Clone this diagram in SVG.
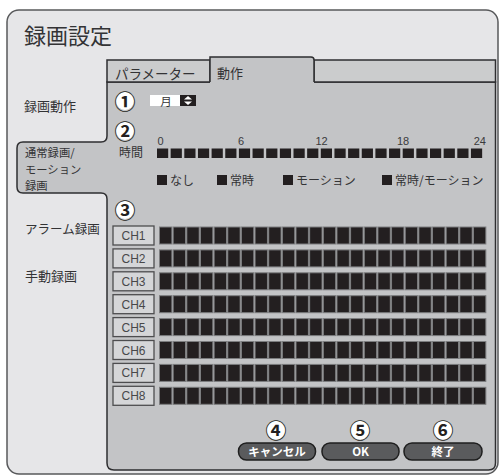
<svg xmlns="http://www.w3.org/2000/svg" xmlns:xlink="http://www.w3.org/1999/xlink" width="499" height="476" viewBox="0 0 499 476">
<style>
.jp{font-family:"Noto Sans CJK JP","Noto Sans",sans-serif;fill:#333335}
.lat{font-family:"Liberation Sans",Arial,sans-serif;fill:#3a3a3c}
.num{font-family:"Noto Sans CJK JP",sans-serif;font-weight:bold;font-size:21px;fill:#231f20;text-anchor:middle}
.disc{fill:#ffffff}
.tb{fill:#231f20}
.gb{fill:#231f20;stroke:#7c7d7f;stroke-width:1}
.ch{fill:#d5d6d8;stroke:#4d4d4f;stroke-width:1.3}
.cht{font-family:"Liberation Sans",Arial,sans-serif;font-size:12px;fill:#48484a;text-anchor:middle}
.btn{fill:#5a5b5d;stroke:#1f1f1f;stroke-width:1.5}
.btt{font-family:"Noto Sans CJK JP","Liberation Sans",sans-serif;font-weight:bold;font-size:11.5px;fill:#ffffff;text-anchor:middle}
.tabu{fill:#cbcccd;stroke:#2e2e30;stroke-width:1.5}
</style>
<defs>
<g id="timeBlocks">
<rect class="tb" x="157" y="0" width="11.2" height="9.5"/><rect class="tb" x="170.65" y="0" width="11.2" height="9.5"/><rect class="tb" x="184.3" y="0" width="11.2" height="9.5"/><rect class="tb" x="197.95" y="0" width="11.2" height="9.5"/><rect class="tb" x="211.6" y="0" width="11.2" height="9.5"/><rect class="tb" x="225.25" y="0" width="11.2" height="9.5"/><rect class="tb" x="238.9" y="0" width="11.2" height="9.5"/><rect class="tb" x="252.55" y="0" width="11.2" height="9.5"/><rect class="tb" x="266.2" y="0" width="11.2" height="9.5"/><rect class="tb" x="279.85" y="0" width="11.2" height="9.5"/><rect class="tb" x="293.5" y="0" width="11.2" height="9.5"/><rect class="tb" x="307.15" y="0" width="11.2" height="9.5"/><rect class="tb" x="320.8" y="0" width="11.2" height="9.5"/><rect class="tb" x="334.45" y="0" width="11.2" height="9.5"/><rect class="tb" x="348.1" y="0" width="11.2" height="9.5"/><rect class="tb" x="361.75" y="0" width="11.2" height="9.5"/><rect class="tb" x="375.4" y="0" width="11.2" height="9.5"/><rect class="tb" x="389.05" y="0" width="11.2" height="9.5"/><rect class="tb" x="402.7" y="0" width="11.2" height="9.5"/><rect class="tb" x="416.35" y="0" width="11.2" height="9.5"/><rect class="tb" x="430" y="0" width="11.2" height="9.5"/><rect class="tb" x="443.65" y="0" width="11.2" height="9.5"/><rect class="tb" x="457.3" y="0" width="11.2" height="9.5"/><rect class="tb" x="470.95" y="0" width="11.2" height="9.5"/>
</g>
<g id="gridBlocks">
<rect class="gb" x="159.5" y="0" width="12.4" height="17"/><rect class="gb" x="173.15" y="0" width="12.4" height="17"/><rect class="gb" x="186.8" y="0" width="12.4" height="17"/><rect class="gb" x="200.45" y="0" width="12.4" height="17"/><rect class="gb" x="214.1" y="0" width="12.4" height="17"/><rect class="gb" x="227.75" y="0" width="12.4" height="17"/><rect class="gb" x="241.4" y="0" width="12.4" height="17"/><rect class="gb" x="255.05" y="0" width="12.4" height="17"/><rect class="gb" x="268.7" y="0" width="12.4" height="17"/><rect class="gb" x="282.35" y="0" width="12.4" height="17"/><rect class="gb" x="296" y="0" width="12.4" height="17"/><rect class="gb" x="309.65" y="0" width="12.4" height="17"/><rect class="gb" x="323.3" y="0" width="12.4" height="17"/><rect class="gb" x="336.95" y="0" width="12.4" height="17"/><rect class="gb" x="350.6" y="0" width="12.4" height="17"/><rect class="gb" x="364.25" y="0" width="12.4" height="17"/><rect class="gb" x="377.9" y="0" width="12.4" height="17"/><rect class="gb" x="391.55" y="0" width="12.4" height="17"/><rect class="gb" x="405.2" y="0" width="12.4" height="17"/><rect class="gb" x="418.85" y="0" width="12.4" height="17"/><rect class="gb" x="432.5" y="0" width="12.4" height="17"/><rect class="gb" x="446.15" y="0" width="12.4" height="17"/><rect class="gb" x="459.8" y="0" width="12.4" height="17"/><rect class="gb" x="473.45" y="0" width="12.4" height="17"/>
</g>
</defs>
<rect x="0" y="0" width="499" height="476" fill="#ffffff"/>
<g id="window">
<rect x="7" y="10" width="491" height="464" rx="12" fill="#e6e6e8" stroke="#58595b" stroke-width="1.5"/>
<text class="jp" x="24" y="44" font-size="22">録画設定</text>
</g>
<g id="panel">
<path d="M107,82 L495.5,82 L495.5,463 Q495.5,470 488.5,470 L114,470 Q107,470 107,463 L107,199 Q107,193 101,193 L23,193 Q17,193 17,187 L17,148 Q17,142 23,142 L101,142 Q107,142 107,136 Z" fill="#c3c4c6" stroke="#2e2e30" stroke-width="1.5"/>
</g>
<g id="tab-param">
<rect class="tabu" x="107" y="60" width="103" height="22"/>
<text class="jp" x="115" y="79" font-size="13.5">パラメーター</text>
</g>
<g id="tab-filler">
<rect class="tabu" x="314" y="60" width="181.5" height="22"/>
</g>
<g id="tab-action">
<rect x="210" y="57" width="104" height="26" fill="#c3c4c6"/>
<path d="M210,82 L210,57 L311,57 Q314,57 314,60 L314,82" fill="none" stroke="#2e2e30" stroke-width="1.5"/>
<text class="jp" x="217" y="78" font-size="13">動作</text>
</g>
<g id="menu">
<text class="jp" x="24" y="111" font-size="13">録画動作</text>
<text class="jp" x="25" y="157" font-size="11.3">通常録画/</text>
<text class="jp" x="25" y="173.5" font-size="11.3">モーション</text>
<text class="jp" x="25" y="190" font-size="11.3">録画</text>
<text class="jp" x="25" y="234" font-size="12.5">アラーム録画</text>
<text class="jp" x="25" y="281" font-size="13">手動録画</text>
</g>
<g id="marker-1">
<circle class="disc" cx="125" cy="101" r="9"/>
<text class="num" x="125" y="109">①</text>
</g>
<g id="day-select">
<rect x="150" y="95" width="30" height="11" fill="#ffffff"/>
<text class="jp" x="166" y="105.5" font-size="11.5" text-anchor="middle">月</text>
<rect x="180" y="95" width="16" height="11" fill="#231f20"/>
<polygon points="184,99.5 192,99.5 188,96" fill="#ffffff"/>
<polygon points="184,101.5 192,101.5 188,105" fill="#ffffff"/>
</g>
<g id="marker-2">
<circle class="disc" cx="125" cy="131" r="9"/>
<text class="num" x="125" y="139">②</text>
</g>
<g id="time-row">
<text class="lat" x="157.5" y="145" font-size="11">0</text>
<text class="lat" x="241" y="145" font-size="11" text-anchor="middle">6</text>
<text class="lat" x="321.5" y="145" font-size="11" text-anchor="middle">12</text>
<text class="lat" x="403" y="145" font-size="11" text-anchor="middle">18</text>
<text class="lat" x="486" y="145" font-size="11" text-anchor="end">24</text>
<text class="jp" x="119" y="157" font-size="12">時間</text>
<use xlink:href="#timeBlocks" y="148.5"/>
</g>
<g id="legend">
<rect x="157" y="175" width="10" height="10" fill="#231f20"/>
<text class="jp" x="170" y="185" font-size="12">なし</text>
<rect x="217" y="175" width="10" height="10" fill="#231f20"/>
<text class="jp" x="230" y="185" font-size="12">常時</text>
<rect x="283" y="175" width="10" height="10" fill="#231f20"/>
<text class="jp" x="296" y="185" font-size="12">モーション</text>
<rect x="382" y="175" width="10" height="10" fill="#231f20"/>
<text class="jp" x="395" y="185" font-size="12">常時/モーション</text>
</g>
<g id="marker-3">
<circle class="disc" cx="125" cy="210" r="9"/>
<text class="num" x="125" y="218">③</text>
</g>
<g id="ch1"><rect class="ch" x="113" y="226" width="41" height="19"/><text class="cht" x="133.5" y="240">CH1</text><use xlink:href="#gridBlocks" y="227"/></g>
<g id="ch2"><rect class="ch" x="113" y="248.9" width="41" height="19"/><text class="cht" x="133.5" y="262.9">CH2</text><use xlink:href="#gridBlocks" y="249.9"/></g>
<g id="ch3"><rect class="ch" x="113" y="271.8" width="41" height="19"/><text class="cht" x="133.5" y="285.8">CH3</text><use xlink:href="#gridBlocks" y="272.8"/></g>
<g id="ch4"><rect class="ch" x="113" y="294.7" width="41" height="19"/><text class="cht" x="133.5" y="308.7">CH4</text><use xlink:href="#gridBlocks" y="295.7"/></g>
<g id="ch5"><rect class="ch" x="113" y="317.6" width="41" height="19"/><text class="cht" x="133.5" y="331.6">CH5</text><use xlink:href="#gridBlocks" y="318.6"/></g>
<g id="ch6"><rect class="ch" x="113" y="340.5" width="41" height="19"/><text class="cht" x="133.5" y="354.5">CH6</text><use xlink:href="#gridBlocks" y="341.5"/></g>
<g id="ch7"><rect class="ch" x="113" y="363.4" width="41" height="19"/><text class="cht" x="133.5" y="377.4">CH7</text><use xlink:href="#gridBlocks" y="364.4"/></g>
<g id="ch8"><rect class="ch" x="113" y="386.3" width="41" height="19"/><text class="cht" x="133.5" y="400.3">CH8</text><use xlink:href="#gridBlocks" y="387.3"/></g>
<g id="btn-cancel">
<circle class="disc" cx="276" cy="430" r="9.5"/>
<text class="num" x="276" y="438">④</text>
<rect class="btn" x="238.5" y="443" width="77" height="17" rx="8"/>
<text class="btt" x="277" y="456">キャンセル</text>
</g>
<g id="btn-ok">
<circle class="disc" cx="360" cy="430" r="9.5"/>
<text class="num" x="360" y="438">⑤</text>
<rect class="btn" x="322" y="443" width="77" height="17" rx="8"/>
<text class="btt" x="360.5" y="456" font-family="Liberation Sans,sans-serif">OK</text>
</g>
<g id="btn-exit">
<circle class="disc" cx="443" cy="430" r="9.5"/>
<text class="num" x="443" y="438">⑥</text>
<rect class="btn" x="404" y="443" width="78" height="17" rx="8"/>
<text class="btt" x="443" y="456">終了</text>
</g>
<g id="connectors"/>
</svg>
